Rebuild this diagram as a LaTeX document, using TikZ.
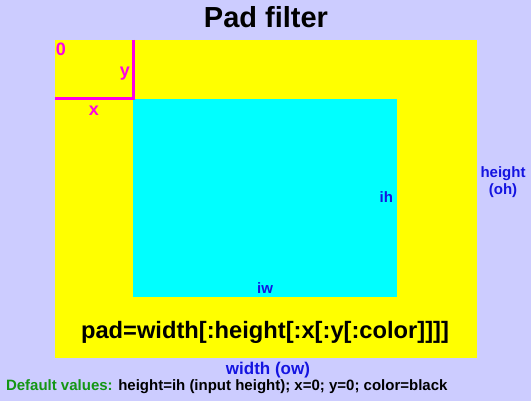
\documentclass[tikz,border=0pt]{standalone}
\usepackage{fontspec}
\setmainfont{Liberation Sans}
\definecolor{padbg}{RGB}{204,204,255}
\definecolor{padyellow}{RGB}{255,255,0}
\definecolor{padcyan}{RGB}{0,255,255}
\definecolor{padmag}{RGB}{255,0,230}
\definecolor{padblue}{RGB}{20,20,225}
\definecolor{padgreen}{RGB}{20,150,20}

\begin{document}
\begin{tikzpicture}[x=1pt,y=-1pt,inner sep=0pt,outer sep=0pt,
dimlabel/.style={text=padblue,font=\bfseries\fontsize{15}{17}\selectfont,align=center},
offlabel/.style={text=padmag,font=\bfseries\fontsize{18}{20}\selectfont},
padline/.style={draw=padmag,line width=3pt}]

\fill[padbg] (0,0) rectangle (531,401);
\fill[padyellow] (55,40) rectangle (477,358);
\fill[padcyan] (133,99) rectangle (397,297);

\draw (266,28) node[anchor=base,font=\bfseries\fontsize{29}{31}\selectfont] (title) {Pad filter};

\coordinate (corner) at (133,99);
\draw[padline] (133,40) -- (corner) -- (55,99);
\draw (61,56) node[anchor=base,offlabel] (zero) {0};
\draw (125,77) node[anchor=base,offlabel] (ylbl) {y};
\draw (94,116) node[anchor=base,offlabel] (xlbl) {x};

\draw (393,203) node[anchor=base east,dimlabel] (ih) {ih};
\draw (265,294) node[anchor=base,dimlabel] (iw) {iw};
\draw (503,195) node[anchor=base,dimlabel] (oh) {height\\(oh)};

\draw (265,338) node[anchor=base,font=\bfseries\fontsize{23.7}{26}\selectfont] (syntax) {pad=width[:height[:x[:y[:color]]]]};
\draw (268,374) node[anchor=base,dimlabel,font=\bfseries\fontsize{17}{19}\selectfont] (ow) {width (ow)};
\draw (6,391) node[anchor=base west,font=\bfseries\fontsize{15}{17}\selectfont] (defaults) {\textcolor{padgreen}{Default values:} height=ih (input height); x=0; y=0; color=black};
\end{tikzpicture}
\end{document}
